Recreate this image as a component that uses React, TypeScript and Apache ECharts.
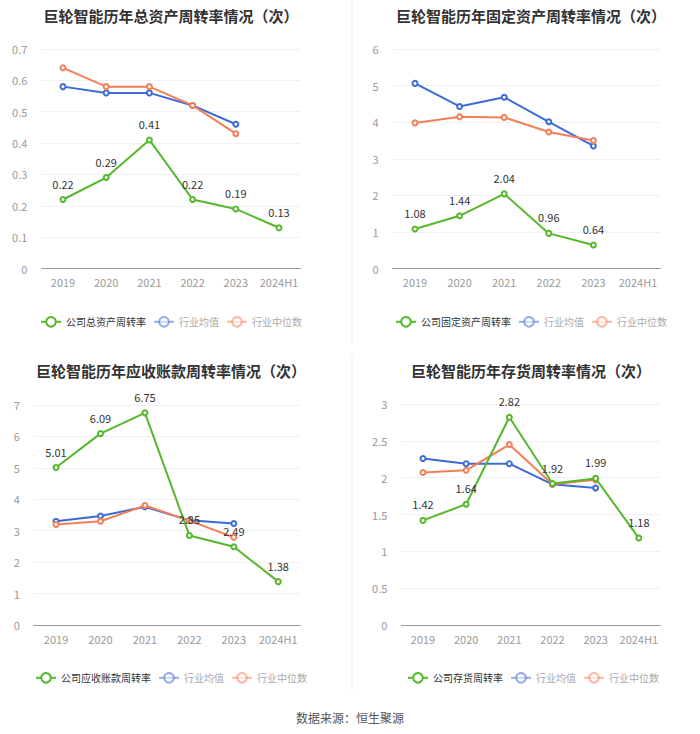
import React, { useEffect, useRef } from "react";
import * as echarts from "echarts";

const categories = ["2019", "2020", "2021", "2022", "2023", "2024H1"];

const titles = [
  "巨轮智能历年总资产周转率情况（次）",
  "巨轮智能历年固定资产周转率情况（次）",
  "巨轮智能历年应收账款周转率情况（次）",
  "巨轮智能历年存货周转率情况（次）",
];
const companyNames = ["公司总资产周转率", "公司固定资产周转率", "公司应收账款周转率", "公司存货周转率"];

const totalCompany = [0.22, 0.29, 0.41, 0.22, 0.19, 0.13];
const totalAvg = [0.58, 0.56, 0.56, 0.52, 0.46, null];
const totalMedian = [0.64, 0.58, 0.58, 0.52, 0.43, null];

const fixedCompany = [1.08, 1.44, 2.04, 0.96, 0.64, null];
const fixedAvg = [5.06, 4.43, 4.68, 4.01, 3.35, null];
const fixedMedian = [3.98, 4.15, 4.13, 3.73, 3.5, null];

const recvCompany = [5.01, 6.09, 6.75, 2.85, 2.49, 1.38];
const recvAvg = [3.3, 3.47, 3.76, 3.33, 3.23, null];
const recvMedian = [3.2, 3.3, 3.8, 3.32, 2.79, null];

const invCompany = [1.42, 1.64, 2.82, 1.92, 1.99, 1.18];
const invAvg = [2.26, 2.19, 2.19, 1.91, 1.86, null];
const invMedian = [2.07, 2.1, 2.45, 1.91, 1.97, null];

const yMax = [0.7, 6, 7, 3];
const yInterval = [0.1, 1, 1, 0.5];

const GREEN = "#55b82b";
const BLUE = "#3a6bd6";
const ORANGE = "#f27f55";
const FONT = "'Noto Sans CJK SC', 'Microsoft YaHei', sans-serif";

export default function App() {
  const ref = useRef<HTMLDivElement>(null);
  useEffect(() => {
    if (!ref.current) return;
    const chart = echarts.init(ref.current, null, { renderer: "svg" });
    const grids = [
      { left: 41.4, top: 49, width: 259.2, height: 219.5 },
      { left: 392.7, top: 49, width: 267.6, height: 219.5 },
      { left: 33.8, top: 405, width: 266.7, height: 220 },
      { left: 401.4, top: 404, width: 259, height: 221 },
    ];
    const titlePos = [
      { x: 166, y: 3 },
      { x: 526, y: 3 },
      { x: 166, y: 358 },
      { x: 526, y: 358 },
    ];
    const legendPos = [
      { x: 40, y: 316 },
      { x: 395, y: 316 },
      { x: 35, y: 672 },
      { x: 407, y: 672 },
    ];
    const data = [
      [totalCompany, totalAvg, totalMedian],
      [fixedCompany, fixedAvg, fixedMedian],
      [recvCompany, recvAvg, recvMedian],
      [invCompany, invAvg, invMedian],
    ];
    const series: any[] = [];
    data.forEach((d, i) => {
      const base = {
        type: "line",
        xAxisIndex: i,
        yAxisIndex: i,
        symbol: "emptyCircle",
        symbolSize: 5,
        connectNulls: false,
      };
      series.push({ ...base, name: "行业均值", data: d[1], itemStyle: { color: BLUE }, lineStyle: { width: 2, color: BLUE }, z: 2 });
      series.push({ ...base, name: "行业中位数", data: d[2], itemStyle: { color: ORANGE }, lineStyle: { width: 2, color: ORANGE }, z: 3 });
      series.push({
        ...base,
        name: companyNames[i],
        data: d[0],
        itemStyle: { color: GREEN },
        lineStyle: { width: 2, color: GREEN },
        z: 4,
        label: { show: true, position: "top", color: "#333", fontSize: 11, fontFamily: FONT, distance: 7 },
      });
    });
    const option: any = {
      animation: false,
      backgroundColor: "#fff",
      textStyle: { fontFamily: FONT },
      title: titles.map((t, i) => ({
        text: t,
        left: titlePos[i].x,
        top: titlePos[i].y,
        textAlign: "center",
        textStyle: { fontSize: 15, fontWeight: "bold", color: "#333", fontFamily: FONT },
      })),
      legend: companyNames.map((n, i) => ({
        left: legendPos[i].x,
        top: legendPos[i].y,
        padding: 0,
        width: 320,
        itemGap: 7,
        itemWidth: 20,
        itemHeight: 12,
        textStyle: { fontSize: 10, color: "#333", fontFamily: FONT },
        data: [
          { name: n },
          { name: "行业均值", textStyle: { color: "#aaa" }, itemStyle: { opacity: 0.55 }, lineStyle: { opacity: 0.55 } },
          { name: "行业中位数", textStyle: { color: "#aaa" }, itemStyle: { opacity: 0.55 }, lineStyle: { opacity: 0.55 } },
        ],
      })),
      grid: grids,
      xAxis: grids.map((_, i) => ({
        type: "category",
        gridIndex: i,
        data: categories,
        boundaryGap: true,
        axisLine: { lineStyle: { color: "#999" } },
        axisTick: { alignWithLabel: true, lineStyle: { color: "#999" } },
        axisLabel: { color: "#999", fontSize: 11, margin: 8, interval: 0, fontFamily: FONT },
      })),
      yAxis: grids.map((_, i) => ({
        type: "value",
        gridIndex: i,
        min: 0,
        max: yMax[i],
        interval: yInterval[i],
        axisLine: { show: false },
        axisTick: { show: false },
        splitLine: { lineStyle: { color: "#eef0f4" } },
        axisLabel: { color: "#999", fontSize: 11, margin: 14, fontFamily: FONT },
      })),
      graphic: [
        { type: "line", shape: { x1: 352, y1: 0, x2: 352, y2: 345 }, style: { stroke: "#eeeeee", lineWidth: 1 } },
        { type: "line", shape: { x1: 352, y1: 355, x2: 352, y2: 690 }, style: { stroke: "#eeeeee", lineWidth: 1 } },
        {
          type: "text",
          x: 350,
          y: 717,
          style: { text: "数据来源：恒生聚源", fill: "#555", fontSize: 12, fontFamily: FONT, textAlign: "center", textVerticalAlign: "middle" },
        },
      ],
      series,
    };
    chart.setOption(option);
    return () => chart.dispose();
  }, []);
  return <div ref={ref} style={{ width: 700, height: 734, position: "absolute", left: 0, top: 0 }} />;
}
